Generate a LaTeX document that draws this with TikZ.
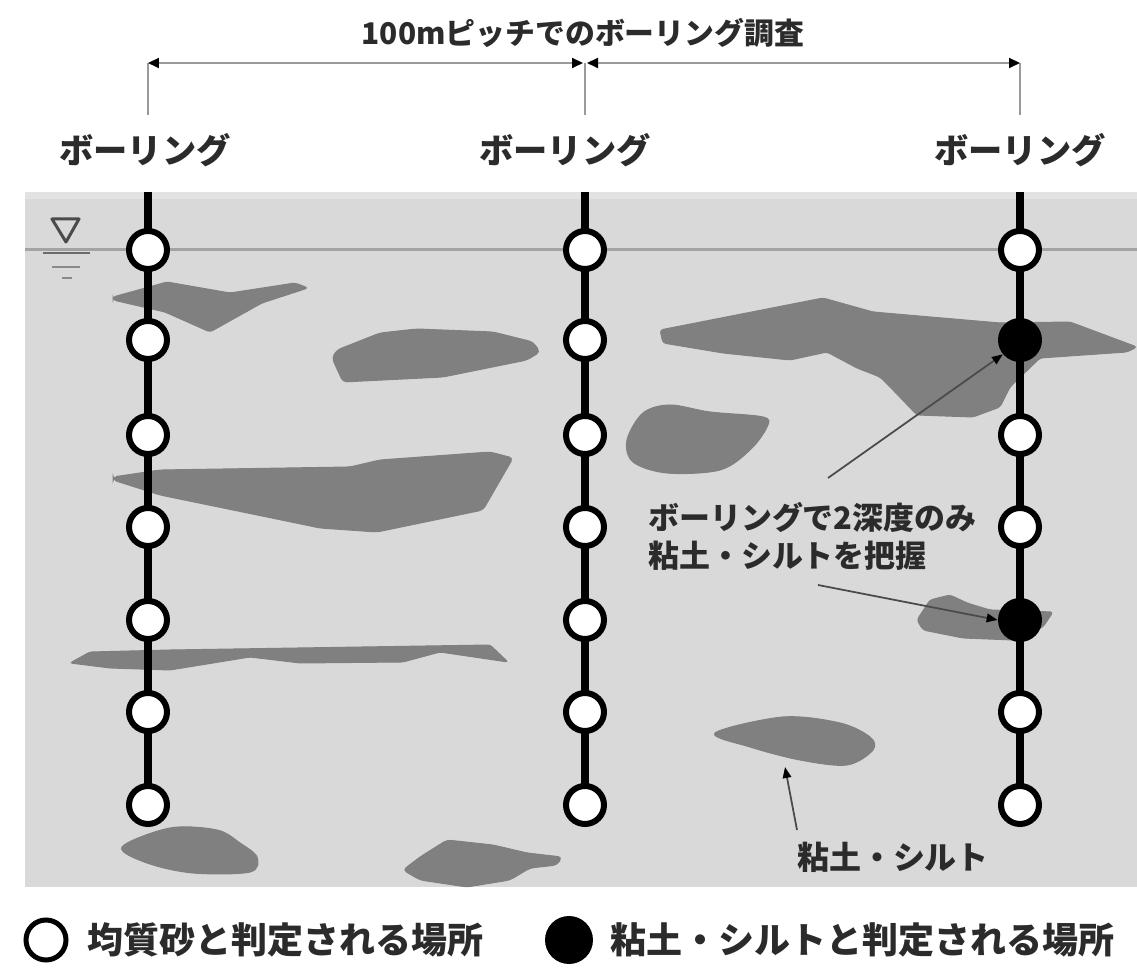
\documentclass[tikz,border=0pt]{standalone}
\usepackage{fontspec}
\setmainfont{Noto Sans CJK JP}
\usetikzlibrary{arrows.meta}
\pgfdeclarelayer{bg}
\pgfsetlayers{bg,main}
\definecolor{ground}{HTML}{D9D9D9}
\definecolor{clay}{HTML}{808080}
\definecolor{ink}{HTML}{2B2B2B}
\definecolor{wline}{HTML}{A3A3A3}
\definecolor{dimgray}{HTML}{9A9A9A}
\definecolor{notegray}{HTML}{4A4A4A}

\begin{document}
\begin{tikzpicture}[x=0.02cm,y=-0.02cm,
  sand/.style={circle,draw=black,fill=white,line width=0.12cm,minimum size=0.76cm,inner sep=0pt},
  claypt/.style={circle,fill=black,minimum size=0.88cm,inner sep=0pt},
  bore/.style={line width=0.16cm,black},
  boretitle/.style={font=\bfseries\fontsize{19.5}{22}\selectfont,text=ink,inner sep=0pt},
  toptitle/.style={font=\bfseries\fontsize{17}{20}\selectfont,text=ink,inner sep=0pt},
  notetext/.style={font=\bfseries\fontsize{17.6}{21.6}\selectfont,text=ink,inner sep=0pt,align=left},
  legendtext/.style={font=\bfseries\fontsize{20.5}{24}\selectfont,text=ink,inner sep=0pt},
  claylabel/.style={font=\bfseries\fontsize{18.2}{21}\selectfont,text=ink,inner sep=0pt},
  dimline/.style={line width=0.04cm,dimgray},
  dimtip/.style={{Triangle[length=0.22cm,width=0.2cm,black]}-{Triangle[length=0.22cm,width=0.2cm,black]}},
  extline/.style={line width=0.03cm,dimgray},
  notearrow/.style={line width=0.035cm,notegray,-{Triangle[length=0.22cm,width=0.17cm,black]}},
  claybody/.style={fill=clay,draw=clay,line width=0.02cm}
]
\useasboundingbox (0,0) rectangle (1137,972);

% ---- borehole columns ----
\foreach \c/\x in {L/148,M/585,R/1020}{
  \coordinate (top\c) at (\x,192);
  \coordinate (ext\c) at (\x,115);
  \coordinate (dim\c) at (\x,63);
}
\foreach \c/\x in {L/148,M/585}{
  \foreach \i/\y in {1/250,2/340,3/435,4/527,5/620,6/712,7/805}
    \node[sand] (\c\i) at (\x,\y) {};
}
\foreach \i/\y in {1/250,3/435,4/527,6/712,7/805}
  \node[sand] (R\i) at (1020,\y) {};
\node[claypt] (R2) at (1020,340) {};
\node[claypt] (R5) at (1020,620) {};

% ---- titles ----
\node[boretitle] (tL) at (145,150) {ボーリング};
\node[boretitle] (tM) at (565,150) {ボーリング};
\node[boretitle] (tR) at (1020,150) {ボーリング};
\node[toptitle] (ttl) at (583,33) {100mピッチでのボーリング調査};

% ---- dimension line ----
\draw[extline] (dimL) -- (extL);
\draw[extline] (dimM) -- (extM);
\draw[extline] (dimR) -- (extR);
\coordinate (dimMl) at (583,63);
\coordinate (dimMr) at (587,63);
\draw[dimline,dimtip] (dimL) -- (dimMl);
\draw[dimline,dimtip] (dimMr) -- (dimR);

\begin{pgfonlayer}{bg}
  % ground body
  \fill[ground] (25,192) rectangle (1137,887);
  \fill[white,opacity=0.25] (25,192) rectangle (1137,199);
  % water table
  \draw[wline,line width=0.06cm] (25,250) -- (1137,250);
  % clay and silt lenses
  \path[claybody,rounded corners=0.06cm] (113,297) -- (167,282) -- (230,293) -- (295,283) -- (308,288) -- (262,303) -- (210,332) -- (165,312) -- (113,300) -- cycle;
  \path[claybody,rounded corners=0.08cm] (332,358) -- (337,350) -- (380,333) -- (417,329) -- (493,332) -- (533,342) -- (540,352) -- (527,360) -- (443,377) -- (343,382) -- cycle;
  \path[claybody,rounded corners=0.08cm] (113,477) -- (160,470) -- (350,467) -- (380,460) -- (490,452) -- (513,458) -- (483,510) -- (377,532) -- (320,528) -- (267,517) -- (160,495) -- (113,480) -- cycle;
  \path[claybody,rounded corners=0.05cm] (70,663) -- (90,652) -- (170,650) -- (490,645) -- (508,662) -- (440,652) -- (403,662) -- (300,663) -- (250,657) -- (170,670) -- (110,668) -- cycle;
  \path[claybody] plot[smooth cycle,tension=0.55] coordinates {(122,847) (170,828) (217,830) (240,843) (257,857) (250,872) (193,873) (147,863)};
  \path[claybody,rounded corners=0.08cm] (403,870) -- (420,857) -- (447,840) -- (493,845) -- (527,853) -- (562,857) -- (557,865) -- (530,868) -- (510,880) -- (467,887) -- (420,880) -- cycle;
  \path[claybody] plot[smooth cycle,tension=0.55] coordinates {(627,440) (643,413) (670,405) (710,412) (763,417) (767,427) (750,450) (720,470) (667,473) (633,462)};
  \path[claybody,rounded corners=0.06cm] (660,330) -- (823,298) -- (873,312) -- (1000,323) -- (1070,322) -- (1137,347) -- (1127,352) -- (1040,358) -- (1010,387) -- (1000,407) -- (973,417) -- (917,415) -- (893,390) -- (880,377) -- (857,368) -- (827,352) -- (790,360) -- (723,353) -- (663,343) -- cycle;
  \path[claybody,rounded corners=0.06cm] (917,620) -- (930,600) -- (950,595) -- (967,603) -- (990,610) -- (1053,612) -- (1043,627) -- (1013,640) -- (963,638) -- (923,630) -- cycle;
  \path[claybody] plot[smooth cycle,tension=0.55] coordinates {(715,733) (783,717) (840,723) (870,737) (873,750) (847,765) (800,760) (750,747)};
  % borehole rods
  \draw[bore] (topL) -- (L7.center);
  \draw[bore] (topM) -- (M7.center);
  \draw[bore] (topR) -- (R7.center);
\end{pgfonlayer}

% ---- water table mark ----
\draw[ink!85,line width=0.06cm,line join=round] (52,219) -- (79,219) -- (66,242) -- cycle;
\draw[ink!70,line width=0.05cm] (43,253) -- (90,253);
\draw[ink!55,line width=0.05cm] (52,267) -- (80,267);
\draw[ink!55,line width=0.05cm] (62,278) -- (72,278);

% ---- annotations ----
\node[notetext,anchor=west] (note) at (648,536) {ボーリングで2深度のみ\\粘土・シルトを把握};
\coordinate (noteA) at (828,478);
\coordinate (noteB) at (818,585);
\draw[notearrow] (noteA) -- (R2.220);
\draw[notearrow] (noteB) -- (R5.west);
\node[claylabel] (clay) at (893,857) {粘土・シルト};
\coordinate (clayA) at (797,830);
\coordinate (clayB) at (785,767);
\draw[notearrow] (clayA) -- (clayB);

% ---- legend ----
\node[circle,draw=black,fill=white,line width=0.1cm,minimum size=0.8cm,inner sep=0pt] (legS) at (46,940) {};
\node[legendtext,anchor=west] (legSt) at (87,940) {均質砂と判定される場所};
\node[circle,fill=black,minimum size=0.96cm,inner sep=0pt] (legC) at (569,940) {};
\node[legendtext,anchor=west] (legCt) at (610,940) {粘土・シルトと判定される場所};
\end{tikzpicture}
\end{document}
